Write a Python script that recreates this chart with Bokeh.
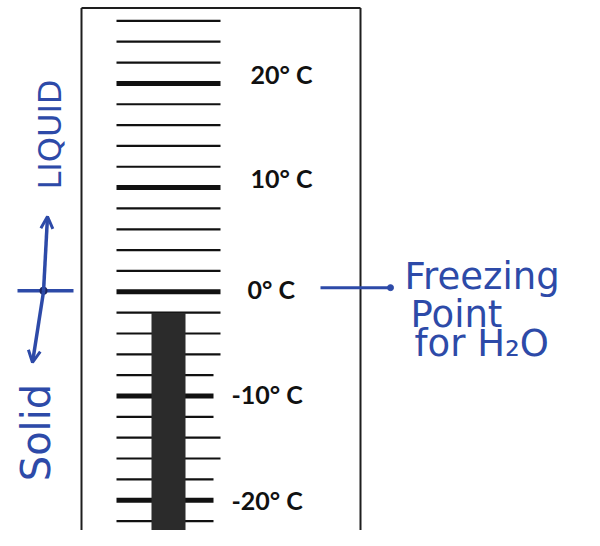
import math
from bokeh.plotting import figure
from bokeh.models import ColumnDataSource, Arrow, OpenHead
from bokeh.core.properties import value
from bokeh.embed import file_html
from bokeh.resources import INLINE

# ---------------- data ----------------
tick_temps = list(range(-22, 27, 2))          # scale marks every 2 degrees
major_temps = [-20, -10, 0, 10, 20]           # labelled (thick) marks
label_texts = ["-20° C", "-10° C", "0° C", "10° C", "20° C"]
mercury_temp = -2                             # top of the dark column
freezing_point = 0
note_lines = ["Freezing", "Point", "for H₂O"]
phase_above = "LIQUID"
phase_below = "Solid"

# ---------------- geometry helpers ----------------
PX_PER_DEG = 10.42
Y0 = 291.3          # pixel row of 0 degrees
def deg(py):
    return (Y0 - py) / PX_PER_DEG

W, H = 584, 530
ymin, ymax = deg(H), deg(0)

p = figure(width=W, height=H, x_range=(0, W), y_range=(ymin, ymax),
           output_backend="svg", toolbar_location=None, min_border=0)
p.axis.visible = False
p.grid.visible = False
p.outline_line_color = None
p.background_fill_color = "white"
p.border_fill_color = "white"

INK = "#111111"
BLUE = "#2d4aa8"

# frame of the thermometer card
p.segment(x0=[81, 360, 81], y0=[ymin - 1, ymin - 1, deg(7.5)],
          x1=[81, 360, 360], y1=[deg(7.5), deg(7.5), deg(7.5)],
          line_color="#1e1e1e", line_width=2)

# scale marks
short = {-8, -10, -12, -18, -20, -22}
minor = [t for t in tick_temps if t not in major_temps]
major = [t for t in tick_temps if t in major_temps]
src_minor = ColumnDataSource(dict(y=minor, x0=[116] * len(minor),
                                  x1=[213 if t in short else 220 for t in minor]))
src_major = ColumnDataSource(dict(y=major, x0=[116] * len(major),
                                  x1=[213 if t in short else 220 for t in major]))
p.segment(x0="x0", y0="y", x1="x1", y1="y", source=src_minor, line_color=INK, line_width=2.2)
p.segment(x0="x0", y0="y", x1="x1", y1="y", source=src_major, line_color=INK, line_width=5)

# mercury column
p.quad(left=151, right=185, bottom=ymin - 5, top=mercury_temp, fill_color="#2b2b2b", line_color=None)

# temperature labels
lab_x = [231 if t < 0 else (247 if t == 0 else 250) for t in major_temps]
lab_off = [0, -2, -3, -9.5, -9]
p.text(x=lab_x, y=major_temps, text=label_texts, y_offset=lab_off,
       text_font=value("Lato"), text_font_size="25px", text_font_style="bold",
       text_color=INK, text_align="left", text_baseline="middle")

# ---------------- handwritten annotations ----------------
# pointer to freezing point
p.line(x=[320, 390], y=[freezing_point + 0.4, freezing_point + 0.4], line_color=BLUE, line_width=3)
p.scatter(x=[390], y=[freezing_point + 0.4], size=6, fill_color=BLUE, line_color=BLUE)
note_y = [deg(276), deg(314), deg(343)]
note_x = [404, 410, 414]
p.text(x=note_x, y=note_y, text=note_lines, text_font=value("DejaVu Sans"),
       text_font_size="37px", text_color=BLUE, text_align="left", text_baseline="middle")

# phase cross
p.line(x=[17, 73], y=[freezing_point + 0.1, freezing_point + 0.1], line_color=BLUE, line_width=3.5)
p.add_layout(Arrow(end=OpenHead(size=12, line_color=BLUE, line_width=3),
                   x_start=43, y_start=freezing_point, x_end=47, y_end=deg(216),
                   line_color=BLUE, line_width=3.5))
p.add_layout(Arrow(end=OpenHead(size=12, line_color=BLUE, line_width=3),
                   x_start=43, y_start=freezing_point, x_end=32, y_end=deg(362),
                   line_color=BLUE, line_width=3.5))
p.scatter(x=[43], y=[freezing_point + 0.1], size=8, fill_color="#1c2560", line_color=None)

p.text(x=[49], y=[deg(134)], text=[phase_above], angle=math.pi / 2,
       text_font=value("DejaVu Sans"), text_font_size="32px", text_color=BLUE,
       text_align="center", text_baseline="middle")
p.text(x=[35], y=[deg(432)], text=[phase_below], angle=math.pi / 2,
       text_font=value("DejaVu Sans"), text_font_size="40px", text_color=BLUE,
       text_align="center", text_baseline="middle")

open("out.html", "w").write(file_html(p, INLINE))
